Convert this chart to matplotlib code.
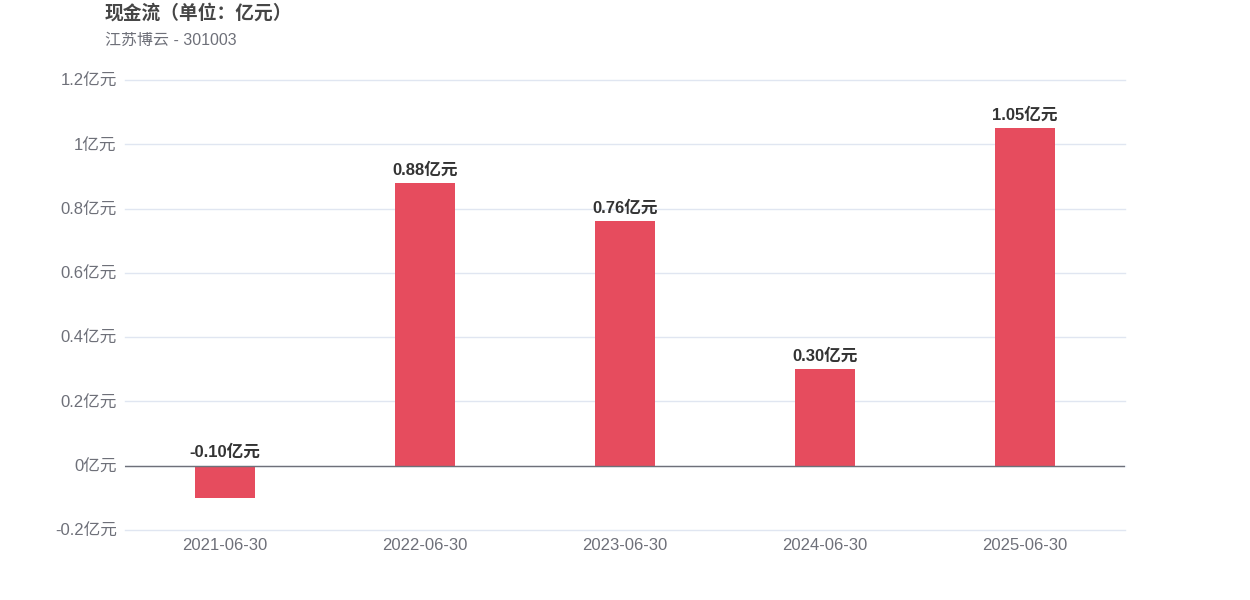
import numpy as np
import matplotlib
matplotlib.use("Agg")
import matplotlib.pyplot as plt

plt.rcParams['font.family'] = ['Liberation Sans', 'Noto Sans CJK SC', 'DejaVu Sans']

dates = ['2021-06-30', '2022-06-30', '2023-06-30', '2024-06-30', '2025-06-30']
values = [-0.10, 0.88, 0.76, 0.30, 1.05]
yticks = [-0.2, 0, 0.2, 0.4, 0.6, 0.8, 1.0, 1.2]
ytick_labels = ['-0.2亿元', '0亿元', '0.2亿元', '0.4亿元', '0.6亿元', '0.8亿元', '1亿元', '1.2亿元']

bar_color = '#e64c5e'
label_color = '#6e7079'

fig = plt.figure(figsize=(12.5, 6), dpi=100)
ax = fig.add_axes([0.1, 1 - 530 / 600, 0.8, 450 / 600])

x = np.arange(len(dates))
ax.bar(x, values, width=0.3, color=bar_color, zorder=3)

for xi, v in zip(x, values):
    ax.annotate(f'{v:.2f}亿元', (xi, max(v, 0)), xytext=(0, 4), textcoords='offset points',
                ha='center', va='bottom', fontsize=12, fontweight='bold', color='#333333')

ax.set_xlim(-0.5, len(dates) - 0.5)
ax.set_ylim(-0.2, 1.2)
ax.set_yticks(yticks)
ax.set_yticklabels(ytick_labels)
ax.set_xticks(x)
ax.set_xticklabels(dates)
ax.tick_params(axis='both', length=0, labelsize=12, labelcolor=label_color)
ax.tick_params(axis='x', pad=6)
ax.tick_params(axis='y', pad=6)
ax.grid(axis='y', color='#e0e6f1', linewidth=1, zorder=0)
for gl in ax.get_ygridlines():
    gl.set_clip_on(False)
ax.axhline(0, color='#6e7079', linewidth=1, zorder=4)
for s in ax.spines.values():
    s.set_visible(False)

fig.text(105 / 1250, 1 - 13 / 600, '现金流（单位：亿元）', fontsize=13.5, fontweight='bold',
         color='#464646', va='center', ha='left',
         family=['Noto Sans CJK SC', 'Liberation Sans'])
fig.text(105 / 1250, 1 - 40 / 600, '江苏博云 - 301003', fontsize=11.5,
         color='#6e7079', va='center', ha='left')

fig.savefig('out.png', dpi=100)
